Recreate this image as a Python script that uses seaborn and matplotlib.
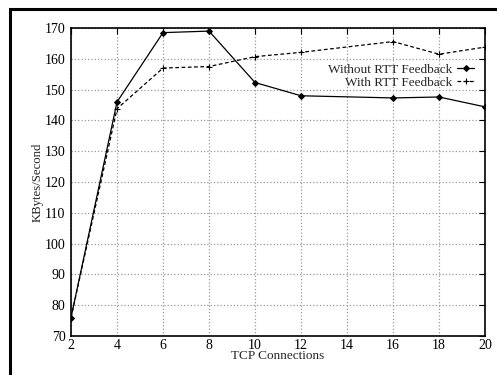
import seaborn as sns
import matplotlib.pyplot as plt
from matplotlib.patches import Rectangle

# TCP connections on the x axis
connections = [2, 4, 6, 8, 10, 12, 16, 18, 20]

# throughput in KBytes/Second
without_rtt = [76.0, 146.0, 168.5, 169.0, 152.3, 148.0, 147.3, 147.6, 144.4]
with_rtt = [76.0, 143.8, 157.0, 157.5, 160.7, 162.1, 165.6, 161.5, 163.8]

series_names = ["Without RTT Feedback", "With RTT Feedback"]
x_ticks = [2, 4, 6, 8, 10, 12, 14, 16, 18, 20]
y_ticks = [70, 80, 90, 100, 110, 120, 130, 140, 150, 160, 170]

sns.set_theme(style="white")
plt.rcParams["font.family"] = ["Liberation Serif", "DejaVu Serif"]

fig = plt.figure(figsize=(4.97, 3.75), dpi=100)
ax = fig.add_axes([0.1429, 0.104, 0.833, 0.8213])

# one call per series: filled diamond and line-art plus cannot share a style map
sns.lineplot(x=connections, y=without_rtt, color="black", marker="D",
             markersize=3, markeredgecolor="black", linewidth=0.9,
             label=series_names[0], ax=ax)
sns.lineplot(x=connections, y=with_rtt, color="black", marker="+",
             markersize=5, markeredgecolor="black", markeredgewidth=0.8,
             linewidth=0.9, linestyle=(0, (3, 2)), label=series_names[1], ax=ax)

ax.set_xlim(2, 20)
ax.set_ylim(70, 170)
ax.set_xticks(x_ticks)
ax.set_yticks(y_ticks)
ax.tick_params(direction="in", length=4, width=0.8, colors="black",
               labelsize=10, top=True, right=True)
ax.tick_params(axis="y", pad=4)
ax.tick_params(axis="x", pad=2)
ax.grid(True, color="#999999", linestyle=":", linewidth=0.9)
for spine in ax.spines.values():
    spine.set_color("black")
    spine.set_linewidth(1.2)

ax.set_xlabel("TCP Connections", fontsize=9.5, labelpad=-1)
ax.set_ylabel("KBytes/Second", fontsize=9.2, labelpad=1)

leg = ax.legend(loc="upper right", bbox_to_anchor=(0.99, 0.905), frameon=False,
                markerfirst=False, handlelength=1.3, handletextpad=0.35,
                labelspacing=0.05, fontsize=9.5, borderpad=0)
for text in leg.get_texts():
    text.set_ha("right")

# outer frame around the figure
fig.patches.append(Rectangle((10 / 497, -0.05), 1.1, 1 - 9 / 375 + 0.05,
                             transform=fig.transFigure, fill=False,
                             edgecolor="black", linewidth=2.2))

fig.savefig("out.png", dpi=100)
